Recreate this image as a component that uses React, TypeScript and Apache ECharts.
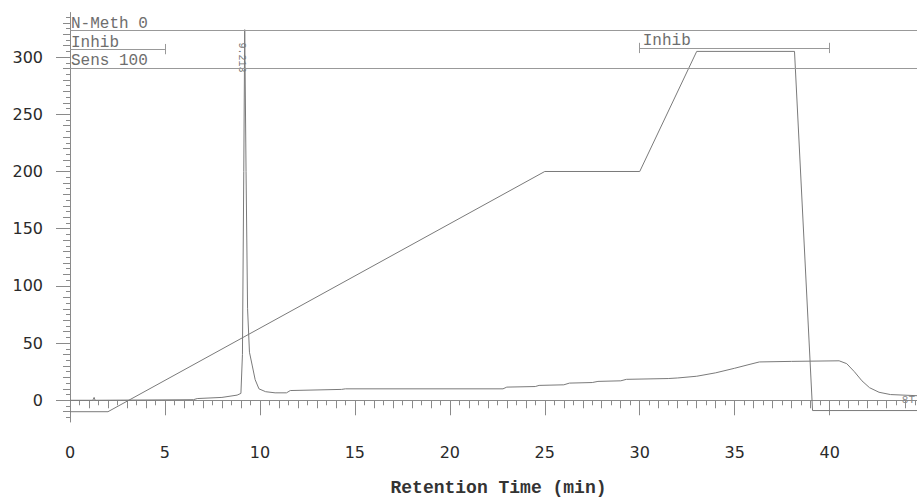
import React, { useEffect, useRef } from "react";
import * as echarts from "echarts";

// Detector signal trace: [retention time (min), response]
const signalTrace: number[][] = [
  [0, 0], [1.2, 0], [1.27, 2.5], [1.32, 0], [6.5, 0.5], [6.7, 1.5], [8.0, 2.5],
  [8.8, 4.5], [9.0, 6], [9.08, 40], [9.15, 200], [9.2, 324], [9.27, 200],
  [9.35, 80], [9.45, 42], [9.6, 30], [9.75, 18], [9.95, 10], [10.3, 7.5],
  [10.8, 6.5], [11.4, 6.5], [11.6, 8.5], [14.3, 9.5], [14.5, 10], [22.8, 10],
  [23.0, 11.5], [24.5, 12], [24.7, 13], [26.0, 13.5], [26.3, 15], [27.5, 15.5],
  [27.8, 16.5], [29.0, 17], [29.3, 18.3], [31.5, 19], [32.0, 19.5], [33.0, 21],
  [34.0, 24], [35.0, 28], [35.7, 31], [36.3, 33.5], [38.0, 34], [40.5, 34.5],
  [40.9, 32], [41.3, 25], [41.7, 17], [42.1, 11], [42.6, 7], [43.2, 5], [44.6, 4],
];

// Gradient / method program trace
const gradientTrace: number[][] = [
  [0, -10], [2, -10], [25, 200], [30, 200], [33, 305], [38.15, 305], [39.1, -9], [44.6, -9],
];

// Method event lines (y values) and labels
const eventLabels = ["N-Meth 0", "Sens 100"];
const eventLevels = [323.8, 290];

// Inhibit windows: [start, end, level]
const inhibWindows: number[][] = [[0, 5, 307], [30, 40, 308]];
const inhibLabel = "Inhib";
const peakLabel = "9.213";
const endLabel = "8T";

const xMajorTicks = [0, 5, 10, 15, 20, 25, 30, 35, 40];
const yMajorTicks = [0, 50, 100, 150, 200, 250, 300];
const xMin = 0, xMax = 44.6, yMin = -19, yMax = 339;
const xTitle = "Retention Time (min)";

const range = (a: number, b: number, s: number) => {
  const out: number[] = [];
  for (let v = a; v <= b + 1e-9; v += s) out.push(Math.round(v * 100) / 100);
  return out;
};

export default function App() {
  const ref = useRef<HTMLDivElement>(null);
  useEffect(() => {
    document.body.style.margin = "0";
    if (!ref.current) return;
    const chart = echarts.init(ref.current, undefined, { renderer: "svg" });
    const axisGray = "#8a8a8a";
    const traceGray = "#7a7a7a";
    const grid = { left: 70, right: 0, top: 12.5, bottom: 78.5 };

    const xBase = {
      type: "value" as const, min: xMin, max: xMax, position: "bottom" as const,
      splitLine: { show: false },
    };
    const yBase = {
      type: "value" as const, min: yMin, max: yMax, position: "left" as const,
      splitLine: { show: false },
    };

    const markData: any[] = [];
    inhibWindows.forEach(([a, b, lv], i) => {
      markData.push([{ coord: [a, lv] }, { coord: [b, lv] }]);
      markData.push([{ coord: [b, lv - 4.5] }, { coord: [b, lv + 4.5] }]);
      if (i > 0) markData.push([{ coord: [a, lv - 4.5] }, { coord: [a, lv + 4.5] }]);
    });
    eventLevels.forEach((lv) => markData.push({ yAxis: lv }));

    chart.setOption({
      animation: false,
      backgroundColor: "#ffffff",
      grid,
      xAxis: [
        {
          ...xBase,
          axisLine: { show: true, lineStyle: { color: axisGray, width: 1 } },
          axisTick: { show: true, customValues: xMajorTicks, length: 15, lineStyle: { color: axisGray } },
          axisLabel: {
            show: true, customValues: xMajorTicks, margin: 22,
            fontFamily: "DejaVu Sans", fontSize: 16, color: "#2a2a2a",
          },
          name: xTitle, nameLocation: "middle", nameGap: 57,
          nameTextStyle: { fontFamily: "Liberation Mono", fontWeight: "bold", fontSize: 18, color: "#333", padding: [0, 0, 0, 10] },
        },
        {
          ...xBase,
          axisLine: { show: false },
          axisTick: { show: true, customValues: range(0, 44, 1), length: 8, lineStyle: { color: axisGray } },
          axisLabel: { show: false },
        },
        {
          ...xBase,
          axisLine: { show: false },
          axisTick: { show: true, customValues: range(0, 44.5, 0.5), length: 5, lineStyle: { color: axisGray } },
          axisLabel: { show: false },
        },
      ],
      yAxis: [
        {
          ...yBase,
          axisLine: { show: true, lineStyle: { color: axisGray, width: 1 } },
          axisTick: { show: true, customValues: yMajorTicks, length: 14, lineStyle: { color: axisGray } },
          axisLabel: {
            show: true, customValues: yMajorTicks, margin: 27,
            fontFamily: "DejaVu Sans", fontSize: 16, color: "#2a2a2a",
          },
        },
        {
          ...yBase,
          axisLine: { show: false },
          axisTick: { show: true, customValues: range(-10, 330, 10), length: 7, lineStyle: { color: axisGray } },
          axisLabel: { show: false },
        },
        {
          ...yBase,
          axisLine: { show: false },
          axisTick: { show: true, customValues: range(-15, 335, 5), length: 4, lineStyle: { color: axisGray } },
          axisLabel: { show: false },
        },
      ],
      series: [
        {
          type: "line", data: gradientTrace, xAxisIndex: 0, yAxisIndex: 0,
          symbol: "none", lineStyle: { color: traceGray, width: 1 },
          markLine: {
            silent: true, symbol: "none", label: { show: false },
            lineStyle: { color: "#999", width: 1, type: "solid" },
            data: markData,
          },
        },
        {
          type: "line", data: signalTrace, xAxisIndex: 0, yAxisIndex: 0,
          symbol: "none", lineStyle: { color: traceGray, width: 1 },
        },
      ],
    });

    const px = (x: number, y: number) =>
      chart.convertToPixel({ xAxisIndex: 0, yAxisIndex: 0 }, [x, y]) as number[];
    const textStyle = { fontFamily: "Liberation Mono", fontSize: 16, fill: "#6e6e6e" };
    const graphics: any[] = [];
    const [x0] = px(0, 0);
    const nMeth = px(0, eventLevels[0]);
    const sens = px(0, eventLevels[1]);
    graphics.push({ type: "text", x: x0 + 1, y: nMeth[1] - 6, style: { ...textStyle, text: eventLabels[0], verticalAlign: "middle" } });
    graphics.push({ type: "text", x: x0 + 1, y: sens[1] - 8, style: { ...textStyle, text: eventLabels[1], verticalAlign: "middle" } });
    inhibWindows.forEach(([a, , lv], i) => {
      const p = px(a, lv);
      graphics.push({
        type: "text", x: p[0] + (i === 0 ? 1 : 3), y: p[1] - 6.5,
        style: { ...textStyle, text: inhibLabel, verticalAlign: "middle" },
      });
    });
    const pk = px(9.2, 305);
    graphics.push({
      type: "text", x: pk[0] - 3, y: pk[1] + 6, rotation: -Math.PI / 2,
      style: { fontFamily: "Liberation Mono", fontSize: 10, fill: "#777", text: peakLabel, align: "center", verticalAlign: "middle" },
    });
    const ep = px(44.6, 4);
    graphics.push({
      type: "text", x: ep[0] - 2, y: ep[1] + 4,
      style: { fontFamily: "Liberation Mono", fontSize: 11, fill: "#888", text: endLabel, align: "right", verticalAlign: "middle" },
    });
    chart.setOption({ graphic: graphics });

    return () => chart.dispose();
  }, []);
  return <div ref={ref} style={{ width: 917, height: 502 }} />;
}
